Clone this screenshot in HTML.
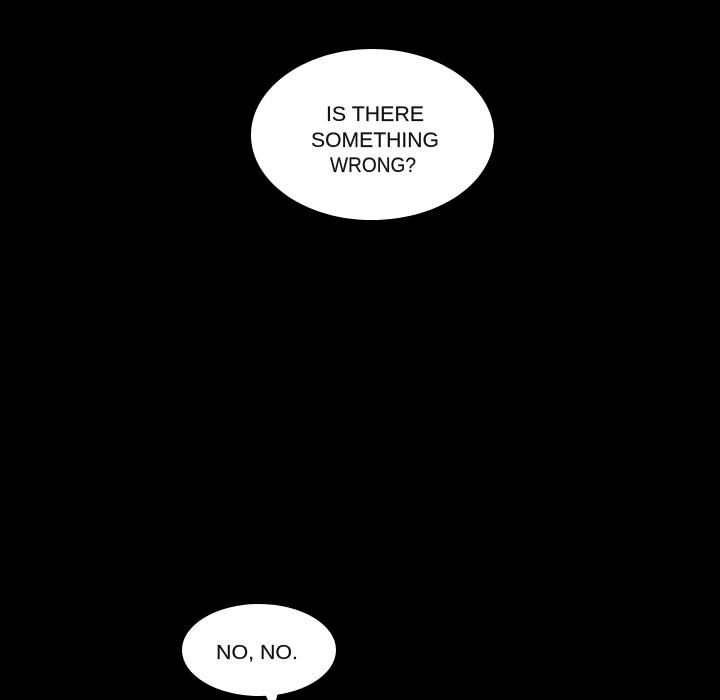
<!DOCTYPE html>
<html>
<head>
<meta charset="utf-8">
<style>
html,body{margin:0;padding:0;background:#000;width:720px;height:700px;overflow:hidden}
svg{display:block}
text{font-family:"Liberation Sans",sans-serif;fill:#111;font-size:21px;stroke:#111;stroke-width:.15px}
</style>
</head>
<body>
<svg width="720" height="700" viewBox="0 0 720 700" xmlns="http://www.w3.org/2000/svg">
<rect width="720" height="700" fill="#000"/>
<path d="M251 135C251 88 305 49 372 49C440 49 494 88 494 135C494 182 440 220 372 220C305 220 251 182 251 135Z" fill="#fff"/>
<text x="326" y="121" textLength="98" lengthAdjust="spacingAndGlyphs">IS THERE</text>
<text x="311" y="147" textLength="128" lengthAdjust="spacingAndGlyphs">SOMETHING</text>
<text x="330" y="172" textLength="86" lengthAdjust="spacingAndGlyphs">WRONG?</text>
<ellipse cx="259" cy="650" rx="77" ry="46" fill="#fff"/>
<path d="M264 692L278 692L276 700L268 700Z" fill="#fff"/>
<text x="216" y="659" textLength="82" lengthAdjust="spacingAndGlyphs" style="font-size:20px">NO, NO.</text>
</svg>
</body>
</html>
